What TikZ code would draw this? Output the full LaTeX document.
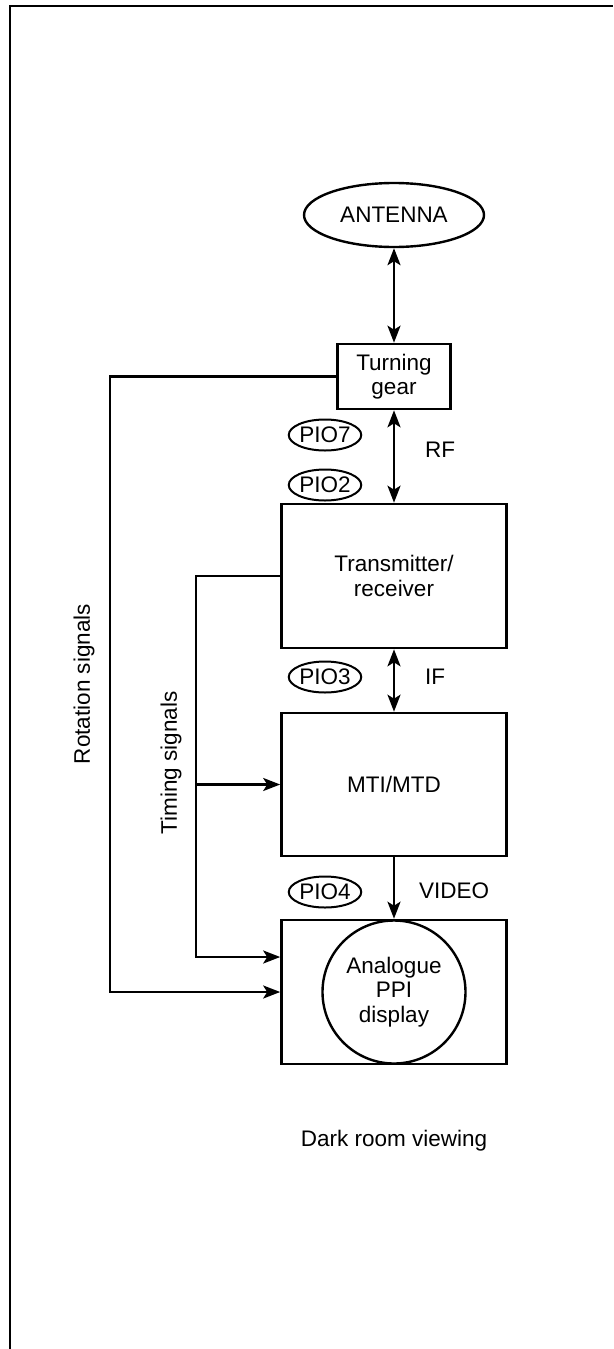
\documentclass[tikz,border=0pt]{standalone}
\usepackage{fontspec}
\setmainfont{Liberation Sans}
\usetikzlibrary{arrows.meta,shapes.geometric}
\begin{document}
\begin{tikzpicture}[x=1pt,y=-1pt,
  every node/.style={font=\fontsize{22.5}{24.5}\selectfont},
  blk/.style={draw,line width=2.6pt,inner sep=0pt,align=center},
  conn/.style={line width=2.4pt},
  tip/.tip={Stealth[length=17pt,width=13pt,inset=4pt]},
  arr/.style={conn,-tip},
  darr/.style={conn,tip-tip},
  pio/.style={draw,ellipse,line width=2pt,minimum width=71pt,minimum height=31pt,inner sep=0pt},
  lbl/.style={anchor=west,inner sep=0pt}]
\useasboundingbox (0,0) rectangle (613,1349);
% frame (left and top sides)
\draw[line width=2.8pt] (10,1349) -- (10,6) -- (613,6);

% blocks
\node[blk,ellipse,minimum width=180pt,minimum height=64pt,line width=2.4pt] (ant) at (394,215) {ANTENNA};
\node[blk,minimum width=113pt,minimum height=65pt] (tg) at (394,376.5) {Turning\\gear};
\node[blk,minimum width=225pt,minimum height=144pt] (tr) at (394,576) {Transmitter/\\receiver};
\node[blk,minimum width=225pt,minimum height=143pt] (mti) at (394,784.5) {MTI/MTD};
\node[blk,minimum width=225pt,minimum height=144pt] (disp) at (394,992) {};
\node[draw,circle,line width=2.4pt,minimum size=143pt,inner sep=0pt,align=center] (ppi) at (394,992) {Analogue\\PPI\\display};

% PIO tags
\node[pio] (p7) at (325,435) {PIO7};
\node[pio] (p2) at (325,485) {PIO2};
\node[pio] (p3) at (325,677) {PIO3};
\node[pio] (p4) at (325,892) {PIO4};

% link labels
\node[lbl] (rf) at (425,450) {RF};
\node[lbl] (if) at (425,677) {IF};
\node[lbl] (vid) at (419,891) {VIDEO};

% main chain
\draw[darr] (ant.south) -- (tg.north);
\draw[darr] (tg.south) -- (tr.north);
\draw[darr] (tr.south) -- (mti.north);
\draw[arr] (mti.south) -- (disp.north);

% rotation signals
\coordinate (r1) at (110,376.5);
\coordinate (r2) at (110,992);
\draw[arr] (tg.west) -- (r1) -- (r2) -- (disp.west |- r2);

% timing signals
\coordinate (t1) at (196,576);
\coordinate (t2) at (196,957);
\coordinate (tm) at (196,784.5);
\draw[arr] (tr.west) -- (t1) -- (t2) -- (disp.west |- t2);
\draw[arr] (tm) -- (mti.west);

% side labels
\node[rotate=90] (rot) at (84,684) {Rotation signals};
\node[rotate=90] (tim) at (171,763) {Timing signals};

\node (dark) at (394,1141) {Dark room viewing};
\end{tikzpicture}
\end{document}
